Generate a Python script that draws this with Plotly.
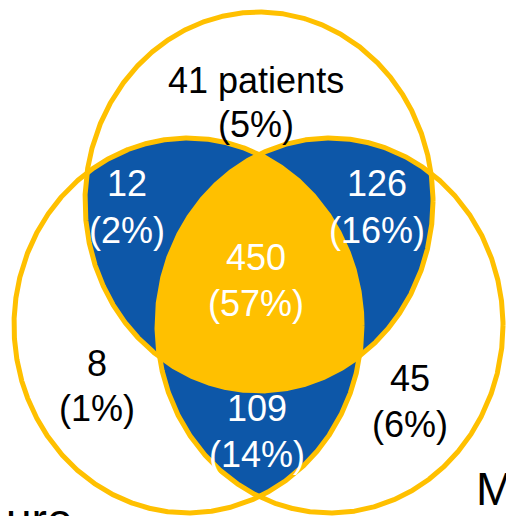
import numpy as np
import plotly.graph_objects as go

# ---- data ----
regions = ["Top only", "Top & Left", "Top & Right", "All three",
           "Left only", "Right only", "Left & Right"]
counts = [41, 12, 126, 450, 8, 45, 109]
percents = [5, 2, 16, 57, 1, 6, 14]
count_suffix = [" patients", "", "", "", "", "", ""]
set_labels = ["ure", "M"]  # set names, cut off at the picture edges

# ---- geometry / style (layout, not data) ----
ELL = {
    "T": (259.0, 201.5, 174.0, 189.5),
    "L": (188.0, 325.5, 174.0, 187.5),
    "R": (330.0, 325.5, 173.0, 187.5),
}
YELLOW = "#FFC000"
BLUE = "#0D57A8"
label_pos = [(256, 80, 124), (127, 183, 230), (377, 183, 230), (256, 257, 303),
             (97, 363, 408), (410, 378, 424), (257, 408, 454)]
label_col = ["black", "white", "white", "white", "black", "black", "white"]
FONT = "Liberation Sans, Arial, sans-serif"

N = 3000
t = np.linspace(0, 2 * np.pi, N, endpoint=False)


def boundary(k):
    cx, cy, rx, ry = ELL[k]
    return np.column_stack([cx + rx * np.cos(t), cy + ry * np.sin(t)])


def inside(pts, k, tol=1e-9):
    cx, cy, rx, ry = ELL[k]
    return ((pts[:, 0] - cx) / rx) ** 2 + ((pts[:, 1] - cy) / ry) ** 2 <= 1 + tol


def intersection(keys):
    parts = []
    for k in keys:
        b = boundary(k)
        m = np.ones(len(b), bool)
        for o in keys:
            if o != k:
                m &= inside(b, o)
        parts.append(b[m])
    p = np.vstack(parts)
    c = p.mean(axis=0)
    ang = np.arctan2(p[:, 1] - c[1], p[:, 0] - c[0])
    p = p[np.argsort(ang)]
    return np.vstack([p, p[:1]])


fig = go.Figure()

# pairwise overlaps (blue)
for pair in [("T", "L"), ("T", "R"), ("L", "R")]:
    poly = intersection(pair)
    fig.add_trace(go.Scatter(x=poly[:, 0], y=poly[:, 1], mode="lines", fill="toself",
                             fillcolor=BLUE, line=dict(width=0), hoverinfo="skip",
                             showlegend=False))
# triple overlap (yellow)
poly = intersection(("T", "L", "R"))
fig.add_trace(go.Scatter(x=poly[:, 0], y=poly[:, 1], mode="lines", fill="toself",
                         fillcolor=YELLOW, line=dict(width=0), hoverinfo="skip",
                         showlegend=False))
# outlines
for k in ["T", "L", "R"]:
    b = boundary(k)
    b = np.vstack([b, b[:1]])
    fig.add_trace(go.Scatter(x=b[:, 0], y=b[:, 1], mode="lines",
                             line=dict(color=YELLOW, width=5), hoverinfo="skip",
                             showlegend=False))

for i in range(len(regions)):
    x, y1, y2 = label_pos[i]
    fig.add_annotation(x=x, y=y1, text=f"{counts[i]}{count_suffix[i]}", showarrow=False,
                       font=dict(family=FONT, size=36, color=label_col[i]),
                       xanchor="center", yanchor="middle")
    fig.add_annotation(x=x, y=y2, text=f"({percents[i]}%)", showarrow=False,
                       font=dict(family=FONT, size=36, color=label_col[i]),
                       xanchor="center", yanchor="middle")

fig.add_annotation(x=4, y=492, text=set_labels[0], showarrow=False,
                   font=dict(family=FONT, size=46, color="black"),
                   xanchor="left", yanchor="top")
fig.add_annotation(x=474, y=461, text=set_labels[1], showarrow=False,
                   font=dict(family=FONT, size=46, color="black"),
                   xanchor="left", yanchor="top")

fig.update_layout(
    width=506, height=516, margin=dict(l=0, r=0, t=0, b=0),
    paper_bgcolor="white", plot_bgcolor="white",
    xaxis=dict(range=[0, 506], visible=False, fixedrange=True),
    yaxis=dict(range=[516, 0], visible=False, fixedrange=True),
)
fig.write_html("out.html", config={"displayModeBar": False},
               post_script="document.body.style.margin='0';")
